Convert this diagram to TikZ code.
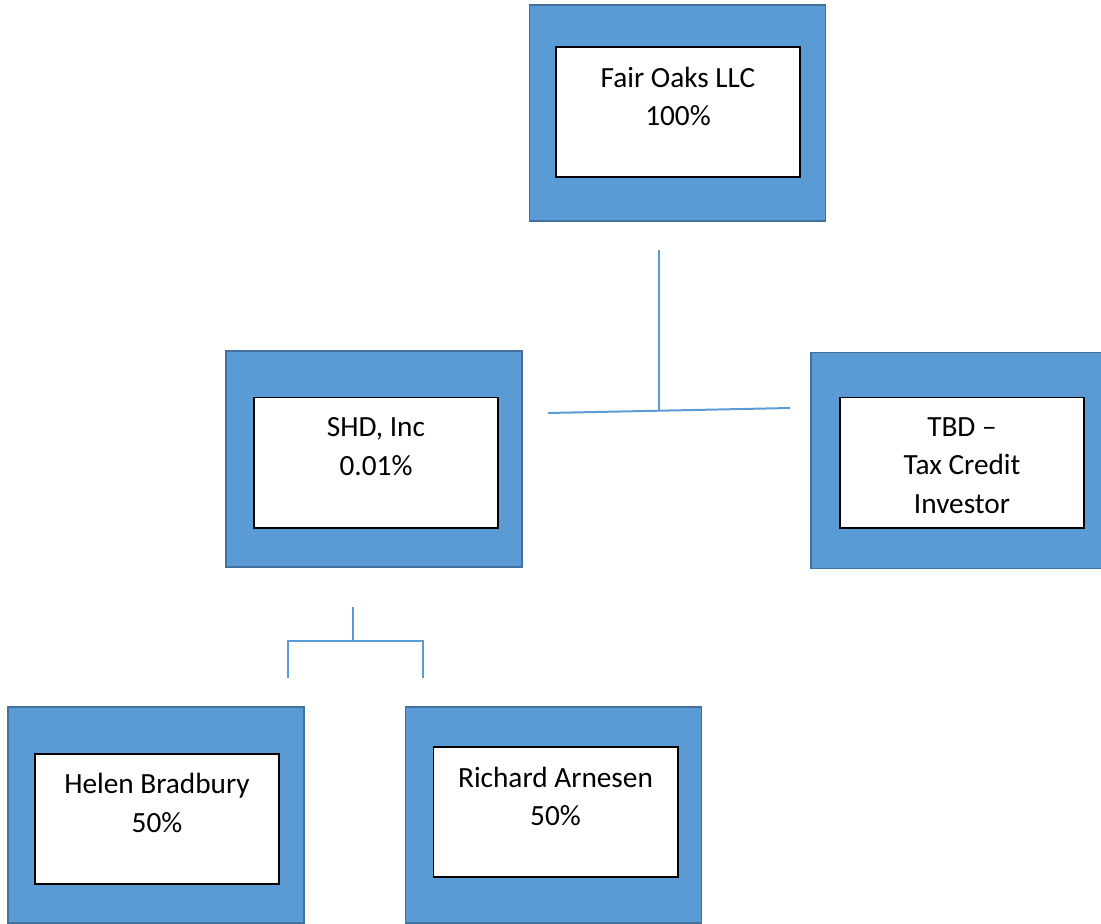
\documentclass[tikz,border=0pt]{standalone}
\usepackage{fontspec}
\setmainfont{Carlito}
\usepackage{tikz}
\usetikzlibrary{positioning}

\definecolor{boxblue}{HTML}{5B9BD5}
\definecolor{boxedge}{HTML}{41719C}

\tikzset{
	outerbox/.style={draw=boxedge, fill=boxblue, line width=1.5pt, minimum width=8.88cm, minimum height=6.48cm},
	innerbox/.style={draw=black, fill=white, line width=1.7pt, minimum width=7.32cm, minimum height=3.9cm},
	owner/.style={align=center, inner sep=0pt, font=\fontsize{25}{33}\selectfont},
	link/.style={draw=boxblue, line width=1.7pt}
}

\begin{document}
\begin{tikzpicture}[x=0.03cm, y=-0.03cm]
	\useasboundingbox (0,0) rectangle (1101,923);
	% top
	\node[outerbox] (fairout) at (677.5,113) {};
	\node[innerbox] (fairin) at (678,112) {};
	\node[owner] (fair) at (678,96.5) {Fair Oaks LLC\\100\%};
	% middle row
	\node[outerbox] (shdout) at (374,459) {};
	\node[innerbox] (shdin) at (376,462.5) {};
	\node[owner] (shd) at (376,446.5) {SHD, Inc\\0.01\%};
	\node[outerbox] (tbdout) at (959,460.5) {};
	\node[innerbox] (tbdin) at (961.5,462.5) {};
	\node[owner] (tbd) at (962,465.5) {TBD --\\Tax Credit\\Investor};
	% bottom row
	\node[outerbox] (helenout) at (156,815) {};
	\node[innerbox] (helenin) at (157,818.5) {};
	\node[owner] (helen) at (157,803) {Helen Bradbury\\50\%};
	\node[outerbox] (richout) at (553.5,815) {};
	\node[innerbox] (richin) at (555.5,811.5) {};
	\node[owner] (rich) at (555.5,796.5) {Richard Arnesen\\50\%};
	% connectors
	\coordinate (fairdrop) at (659,250);
	\coordinate (fairjoin) at (659,410.5);
	\coordinate (shdend) at (548,413);
	\coordinate (tbdend) at (790,408);
	\draw[link] (fairdrop) -- (fairjoin);
	\draw[link] (shdend) -- (tbdend);
	\coordinate (shddrop) at (353,607);
	\coordinate (shdjoin) at (353,642);
	\coordinate (helenup) at (288,641);
	\coordinate (helenend) at (288,678);
	\coordinate (richup) at (423,641);
	\coordinate (richend) at (423,678);
	\draw[link] (shddrop) -- (shdjoin);
	\draw[link] (helenend) -- (helenup) -- (richup) -- (richend);
\end{tikzpicture}
\end{document}
